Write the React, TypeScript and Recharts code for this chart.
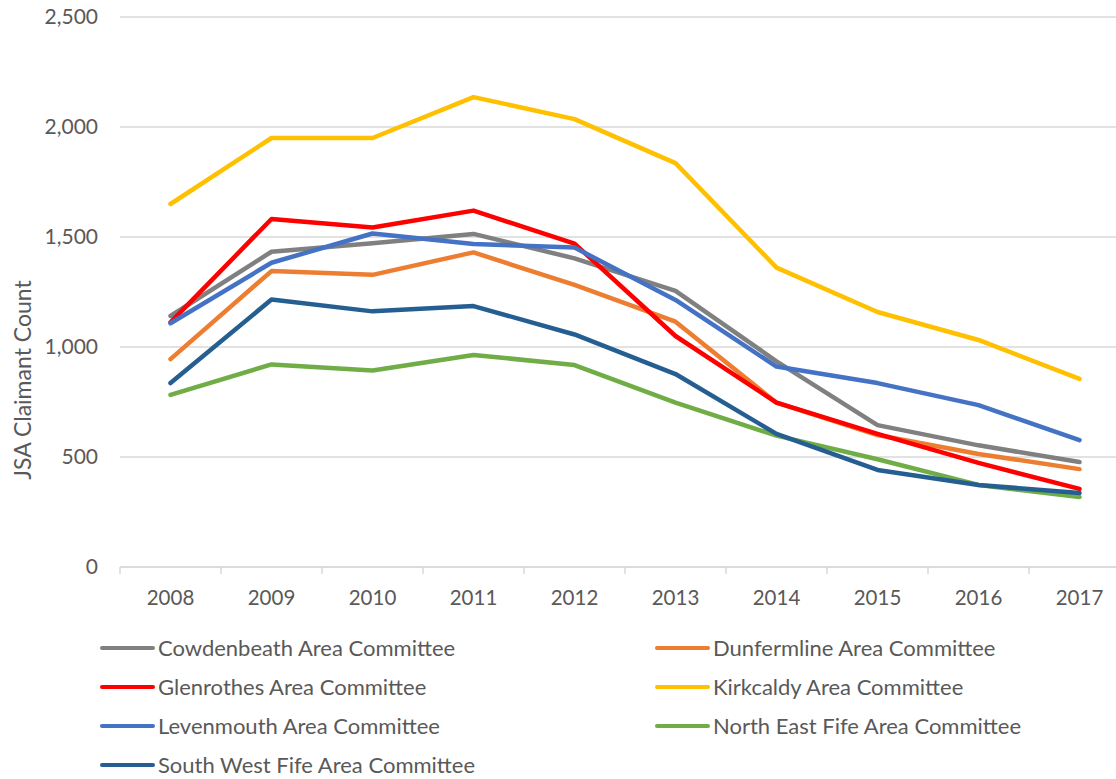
import { LineChart, Line, XAxis, YAxis, CartesianGrid } from "recharts";

// categories
const YEARS = ["2008", "2009", "2010", "2011", "2012", "2013", "2014", "2015", "2016", "2017"];

// series values (JSA claimant count)
const COWDENBEATH = [1141, 1433, 1472, 1514, 1403, 1255, 935, 645, 553, 477];
const DUNFERMLINE = [945, 1345, 1328, 1430, 1282, 1115, 747, 600, 514, 445];
const GLENROTHES = [1112, 1582, 1543, 1620, 1470, 1050, 747, 605, 473, 355];
const KIRKCALDY = [1650, 1950, 1950, 2136, 2036, 1836, 1361, 1159, 1032, 855];
const LEVENMOUTH = [1108, 1383, 1516, 1468, 1452, 1214, 911, 836, 736, 577];
const NORTH_EAST_FIFE = [782, 921, 893, 964, 918, 747, 597, 490, 373, 318];
const SOUTH_WEST_FIFE = [836, 1216, 1162, 1186, 1057, 877, 605, 441, 373, 336];

const Y_TICKS = [0, 500, 1000, 1500, 2000, 2500];

const SERIES = [
  { key: "cowdenbeath", name: "Cowdenbeath Area Committee", values: COWDENBEATH, color: "#808080" },
  { key: "dunfermline", name: "Dunfermline Area Committee", values: DUNFERMLINE, color: "#ED7D31" },
  { key: "glenrothes", name: "Glenrothes Area Committee", values: GLENROTHES, color: "#FF0000" },
  { key: "kirkcaldy", name: "Kirkcaldy Area Committee", values: KIRKCALDY, color: "#FFC000" },
  { key: "levenmouth", name: "Levenmouth Area Committee", values: LEVENMOUTH, color: "#4472C4" },
  { key: "northEastFife", name: "North East Fife Area Committee", values: NORTH_EAST_FIFE, color: "#70AD47" },
  { key: "southWestFife", name: "South West Fife Area Committee", values: SOUTH_WEST_FIFE, color: "#255E91" },
];

const data = YEARS.map((year, i) => {
  const row: Record<string, string | number> = { year };
  SERIES.forEach((s) => {
    row[s.key] = s.values[i];
  });
  return row;
});

const FONT = "Lato, 'Open Sans', sans-serif";
const TEXT = "#595959";
const GRID = "#d9d9d9";

// Excel-style category axis: tick marks sit between categories
function YearTick(props: any) {
  const { x, y, payload, index } = props;
  const half = payload?.offset ?? 50.5;
  return (
    <g>
      <line x1={x - half} y1={y} x2={x - half} y2={y + 7} stroke={GRID} strokeWidth={1.5} />
      {index === YEARS.length - 1 && (
        <line x1={x + half} y1={y} x2={x + half} y2={y + 7} stroke={GRID} strokeWidth={1.5} />
      )}
      <text x={x} y={y + 38} textAnchor="middle" fill={TEXT} fontSize={20.5} fontFamily={FONT}>
        {payload.value}
      </text>
    </g>
  );
}

// axis title sits low, like the original (not centred on the plot)
function AxisTitle() {
  const cx = 22;
  const cy = 380;
  return (
    <text
      x={cx}
      y={cy}
      transform={`rotate(-90 ${cx} ${cy})`}
      textAnchor="middle"
      dominantBaseline="central"
      fill={TEXT}
      fontSize={23}
      fontFamily={FONT}
    >
      JSA Claimant Count
    </text>
  );
}

export default function App() {
  return (
    <div
      style={{
        position: "absolute",
        left: 0,
        top: 0,
        width: 1116,
        height: 779,
        overflow: "hidden",
        background: "#fff",
        fontFamily: FONT,
      }}
    >
      <LineChart width={1130} height={610} data={data} margin={{ top: 17, right: 0, bottom: 0, left: 0 }}>
        <CartesianGrid vertical={false} stroke={GRID} strokeWidth={1.5} />
        <XAxis
          dataKey="year"
          scale="band"
          height={43}
          axisLine={{ stroke: GRID, strokeWidth: 1.5 }}
          tickLine={false}
          tickSize={0}
          tickMargin={0}
          interval={0}
          tick={<YearTick />}
        />
        <YAxis
          width={120}
          domain={[0, 2500]}
          ticks={Y_TICKS}
          axisLine={false}
          tickLine={false}
          tickSize={0}
          tickMargin={22}
          tickFormatter={(v: number) => v.toLocaleString("en-US")}
          tick={{ fontSize: 21, fill: TEXT, fontFamily: FONT }}
          label={<AxisTitle />}
        />
        {SERIES.map((s) => (
          <Line
            key={s.key}
            dataKey={s.key}
            name={s.name}
            type="linear"
            stroke={s.color}
            strokeWidth={4.5}
            strokeLinecap="round"
            strokeLinejoin="round"
            dot={false}
            activeDot={false}
            isAnimationActive={false}
          />
        ))}
      </LineChart>

      {/* legend, two columns, filled row by row */}
      <div
        style={{
          position: "absolute",
          left: 100,
          top: 638,
          display: "grid",
          gridTemplateColumns: "555px 555px",
          rowGap: 19,
          gridAutoRows: "20px",
        }}
      >
        {SERIES.map((s) => (
          <div
            key={s.key}
            style={{
              display: "flex",
              alignItems: "center",
              fontSize: 22,
              lineHeight: "20px",
              height: 20,
              color: TEXT,
              whiteSpace: "nowrap",
            }}
          >
            <span
              style={{
                display: "inline-block",
                width: 55,
                height: 4.5,
                borderRadius: 3,
                background: s.color,
                marginRight: 3,
              }}
            />
            {s.name}
          </div>
        ))}
      </div>
    </div>
  );
}
